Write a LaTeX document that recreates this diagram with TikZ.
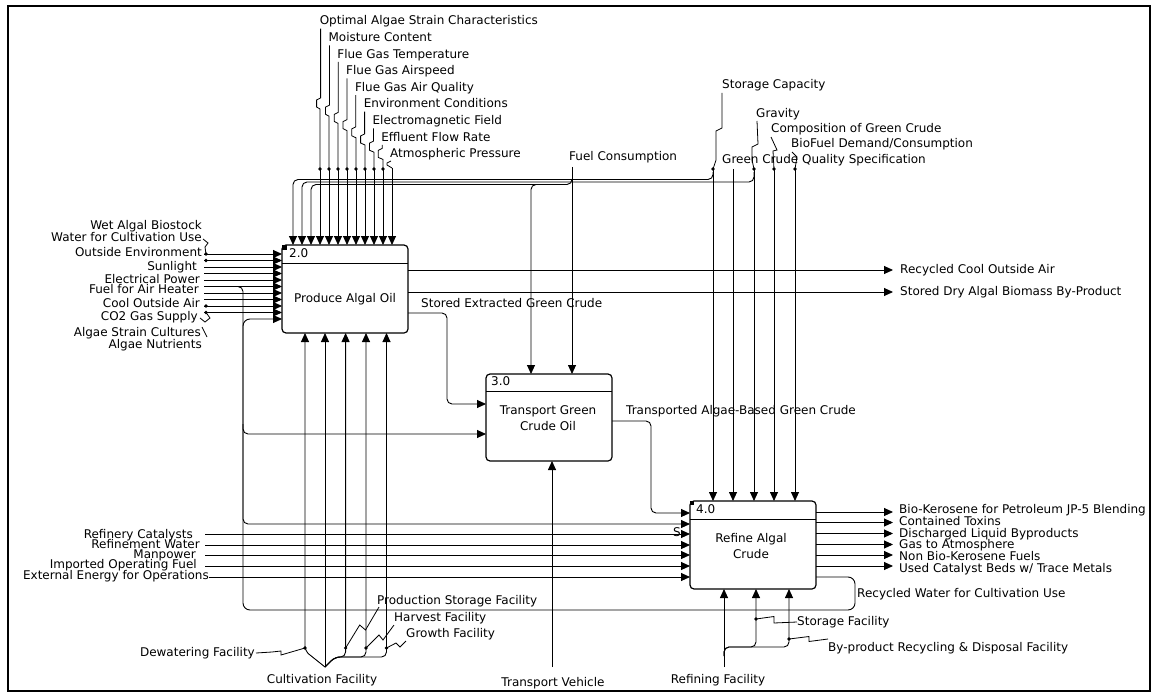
\documentclass[tikz,border=0pt]{standalone}
\usepackage{fontspec}
\setmainfont{DejaVu Sans}
\usetikzlibrary{arrows.meta}
\newcommand{\lfont}{\fontsize{12}{12}\selectfont}
\begin{document}
\begin{tikzpicture}[x=1pt,y=-1pt,
  lbl/.style={inner sep=0pt, font=\lfont, text height=8.5pt, text depth=2pt},
  ln/.style={draw, line width=0.9pt, rounded corners=5pt},
  arr/.style={ln, -{Triangle[length=9pt,width=8pt]}},
  ldr/.style={draw, line width=0.8pt},
  proc/.style={draw, line width=1.2pt, rounded corners=4pt, inner sep=0pt},
  dot/.style={circle, fill, inner sep=0pt, minimum size=3.6pt},
]
\useasboundingbox (0,0) rectangle (1156,695);
\draw[line width=1.3pt] (8,6) rectangle (1150,691);

% ---------------- boxes ----------------
\node[proc, minimum width=126pt, minimum height=88pt] (b2) at (345,289) {};
\draw[line width=1pt] (282,263) -- (408,263);
\fill (281.5,244.5) rectangle (287,250);
\node[lbl, anchor=west] (n2) at (289,254) {2.0};
\node[lbl] (t2) at (345,299) {Produce Algal Oil};

\node[proc, minimum width=126pt, minimum height=87pt] (b3) at (549,417.5) {};
\draw[line width=1pt] (486,391) -- (612,391);
\node[lbl, anchor=west] (n3) at (491,382) {3.0};
\node[lbl, align=center, font=\fontsize{12}{16}\selectfont] (t3) at (548,427) {Transport Green\\Crude Oil};

\node[proc, minimum width=126pt, minimum height=88pt] (b4) at (753,545) {};
\draw[line width=1pt] (690,519) -- (816,519);
\fill (689.5,500.5) rectangle (694,505);
\node[lbl, anchor=west] (n4) at (696,510) {4.0};
\node[lbl, align=center, font=\fontsize{12}{16}\selectfont] (t4) at (751,555) {Refine Algal\\Crude};

% ---------------- top controls of box 2 ----------------
\foreach \i/\t in {0/{Optimal Algae Strain Characteristics},1/{Moisture Content},2/{Flue Gas Temperature},3/{Flue Gas Airspeed},4/{Flue Gas Air Quality},5/{Environment Conditions},6/{Electromagnetic Field},7/{Effluent Flow Rate},8/{Atmospheric Pressure}}{
  \pgfmathsetmacro\lx{319.6+8.8*\i}
  \pgfmathsetmacro\ly{21.7+16.6*\i}
  \node[lbl, anchor=west] (top\i) at (\lx,\ly) {\t};
}
\foreach \i in {0,...,7}{
  \pgfmathsetmacro\lx{320.6+8.8*\i}
  \pgfmathsetmacro\ly{21.7+16.6*\i}
  \pgfmathsetmacro\s{98+7.2*\i}
  \pgfmathsetmacro\xl{320+9*\i}
  \draw[ldr] (\lx,\ly+7) -- (\lx,\s) -- (\lx-4,\s+2) -- (\lx-4,\s+9) -- (\xl,\s+11) -- (\xl,169);
  \node[dot] (d\i) at (\xl,169) {};
}
\draw[ldr] (391,161) -- (387,163) -- (387,165) -- (392,168);
\foreach \k in {3,...,10}{
  \draw[arr] ({293+9*\k},169) -- ({293+9*\k},245);
}
\draw[arr] (392,168) -- (392,245);

% shared control bundle
\draw[arr] (713,172) -- (713,179.5) -- (293,179.5) -- (293,245);
\draw[arr] (754,172) -- (754,182) -- (302,182) -- (302,245);
\draw[arr] (572,179) -- (572,184.5) -- (311,184.5) -- (311,245);
\draw[arr] (545,184.5) -- (531,184.5) -- (531,374);
\draw[arr] (572,167) -- (572,374);
\node[lbl, anchor=west] (fc) at (569,157) {Fuel Consumption};

% ---------------- controls of box 4 ----------------
\node[lbl, anchor=west] (sc) at (722,85) {Storage Capacity};
\node[lbl, anchor=west] (gr) at (756,114) {Gravity};
\node[lbl, anchor=west] (cg) at (771,129) {Composition of Green Crude};
\node[lbl, anchor=west] (bd) at (791,144) {BioFuel Demand/Consumption};
\node[lbl, anchor=west] (gq) at (722,160) {Green Crude Quality Specification};
\draw[ldr] (722,93) -- (722,128) -- (716,131) -- (716,160) -- (713,169);
\draw[ldr] (757,121) -- (758,144) -- (752,147) -- (752,160) -- (754,169);
\draw[ldr] (771,137) -- (777,150) -- (773,151) -- (774,169);
\draw[ldr] (792,152) -- (797,157) -- (795,169);
\node[dot] (ds) at (713,169) {};
\node[dot] (dg) at (754,169) {};
\node[dot] (dc) at (774,169) {};
\node[dot] (db) at (795,169) {};
\foreach \x in {713,733,754,774,795}{
  \draw[arr] (\x,169) -- (\x,501);
}

% ---------------- inputs of box 2 ----------------
\node[lbl, anchor=east] (i1) at (202,226) {Wet Algal Biostock};
\node[lbl, anchor=east] (i2) at (202,238) {Water for Cultivation Use};
\node[lbl, anchor=east] (i3) at (202,253) {Outside Environment};
\node[lbl, anchor=east] (i4) at (197,267) {Sunlight};
\node[lbl, anchor=east] (i5) at (200,280) {Electrical Power};
\node[lbl, anchor=east] (i6) at (199,290) {Fuel for Air Heater};
\node[lbl, anchor=east] (i7) at (200,304) {Cool Outside Air};
\node[lbl, anchor=east] (i8) at (198,317) {CO2 Gas Supply};
\node[lbl, anchor=east] (i9) at (201,333) {Algae Strain Cultures};
\node[lbl, anchor=east] (i10) at (202,345) {Algae Nutrients};
\foreach \y in {254,260.5,267,273.5,280,286.5,293,299.5,306,312.5}{
  \draw[arr] (204,\y) -- (282,\y);
}
\node[dot] (e1) at (206,254) {};
\node[dot] (e2) at (206,260.5) {};
\node[dot] (e3) at (206,306) {};
\node[dot] (e4) at (206,312.5) {};
\draw[ldr] (203,239) -- (208,243) -- (205,247) -- (206,254);
\draw[ldr] (200,318) -- (205,322) -- (210,318) -- (206,312.5);
\draw[ldr] (202,327) -- (207,337);

% branch to boxes 3 and 4
\draw[arr] (230,286.5) -- (243,286.5) -- (243,524) -- (690,524);
\draw[arr] (243,424) -- (243,434) -- (486,434);

% ---------------- outputs of box 2 ----------------
\draw[arr] (408,270) -- (893,270);
\draw[arr] (408,292) -- (893,292);
\node[lbl, anchor=west] (o1) at (900,270.5) {Recycled Cool Outside Air};
\node[lbl, anchor=west] (o2) at (900,292) {Stored Dry Algal Biomass By-Product};
\draw[arr] (408,313) -- (447,313) -- (447,404) -- (486,404);
\node[lbl, anchor=west] (se) at (421,304) {Stored Extracted Green Crude};

% ---------------- box 3 -> box 4 ----------------
\draw[arr] (612,421) -- (651,421) -- (651,513) -- (690,513);
\node[lbl, anchor=west] (ta) at (626,411.5) {Transported Algae-Based Green Crude};

% ---------------- inputs of box 4 ----------------
\node[lbl, anchor=east] (r1) at (193,535) {Refinery Catalysts};
\node[lbl, anchor=east] (r2) at (200,545.5) {Refinement Water};
\node[lbl, anchor=east] (r3) at (196,555.5) {Manpower};
\node[lbl, anchor=east] (r4) at (197,565.5) {Imported Operating Fuel};
\node[lbl, anchor=east] (r5) at (209,576.5) {External Energy for Operations};
\foreach \y in {534,545,555,566}{
  \draw[arr] (205,\y) -- (690,\y);
}
\draw[arr] (209,577) -- (690,577);
\node[lbl] (ss) at (677,533) {S};

% ---------------- outputs of box 4 ----------------
\foreach \y in {512,522.5,533.5,544.5,555,566}{
  \draw[arr] (816,\y) -- (893,\y);
}
\node[lbl, anchor=west] (p1) at (899,510) {Bio-Kerosene for Petroleum JP-5 Blending};
\node[lbl, anchor=west] (p2) at (899,522.5) {Contained Toxins};
\node[lbl, anchor=west] (p3) at (899,534) {Discharged Liquid Byproducts};
\node[lbl, anchor=west] (p4) at (899,545.5) {Gas to Atmosphere};
\node[lbl, anchor=west] (p5) at (899,557) {Non Bio-Kerosene Fuels};
\node[lbl, anchor=west] (p6) at (899,569) {Used Catalyst Beds w/ Trace Metals};

% recycled water loop
\draw[arr, rounded corners=7pt] (816,577) -- (855,577) -- (855,610) -- (243,610) -- (243,319) -- (282,319);
\node[lbl, anchor=west] (rw) at (857,594) {Recycled Water for Cultivation Use};

% ---------------- mechanisms of box 2 ----------------
\draw[arr] (325,667) -- (325,333);
\draw[arr] (325,667) -- (305,651) -- (305,333);
\foreach \x in {345.6,366,386.5}{
  \draw[arr] (325,667) -- (335,657) -- (\x,657) -- (\x,333);
}
\node[dot] (m1) at (305,648) {};
\node[dot] (m2) at (345.6,648) {};
\node[dot] (m3) at (366,648) {};
\node[dot] (m4) at (386.5,648) {};
\node[lbl] (cf) at (322,680) {Cultivation Facility};
\node[lbl, anchor=east] (dw) at (255,653) {Dewatering Facility};
\node[lbl, anchor=west] (ps) at (377,601) {Production Storage Facility};
\node[lbl, anchor=west] (hf) at (394,618) {Harvest Facility};
\node[lbl, anchor=west] (gf) at (406,634) {Growth Facility};
\draw[ldr] (256,653) -- (272,652) -- (281,651) -- (281,655) -- (305,648);
\draw[ldr] (345.6,648) -- (359.7,625) -- (365.5,630) -- (379,607);
\draw[ldr] (366,648) -- (379,635) -- (383,640) -- (394,625);
\draw[ldr] (386.5,648) -- (396,643) -- (400,647) -- (406,641);

% ---------------- mechanism of box 3 ----------------
\draw[arr] (552,667) -- (552,461);
\node[lbl] (tv) at (553,683) {Transport Vehicle};

% ---------------- mechanisms of box 4 ----------------
\draw[arr] (724,667) -- (724,589);
\draw[arr] (724,656) -- (724,647) -- (756,647) -- (756,589);
\draw[arr] (724,656) -- (724,647) -- (789,647) -- (789,589);
\node[dot] (k1) at (756,619) {};
\node[dot] (k2) at (789,639) {};
\node[lbl] (rf) at (718,680) {Refining Facility};
\node[lbl, anchor=west] (sf) at (797,622) {Storage Facility};
\node[lbl, anchor=west] (bp) at (828,648) {By-product Recycling \& Disposal Facility};
\draw[ldr] (756,619) -- (774,616.5) -- (774,623) -- (797,622);
\draw[ldr] (789,639) -- (809,636.5) -- (809,641.5) -- (828,639);
\end{tikzpicture}
\end{document}
